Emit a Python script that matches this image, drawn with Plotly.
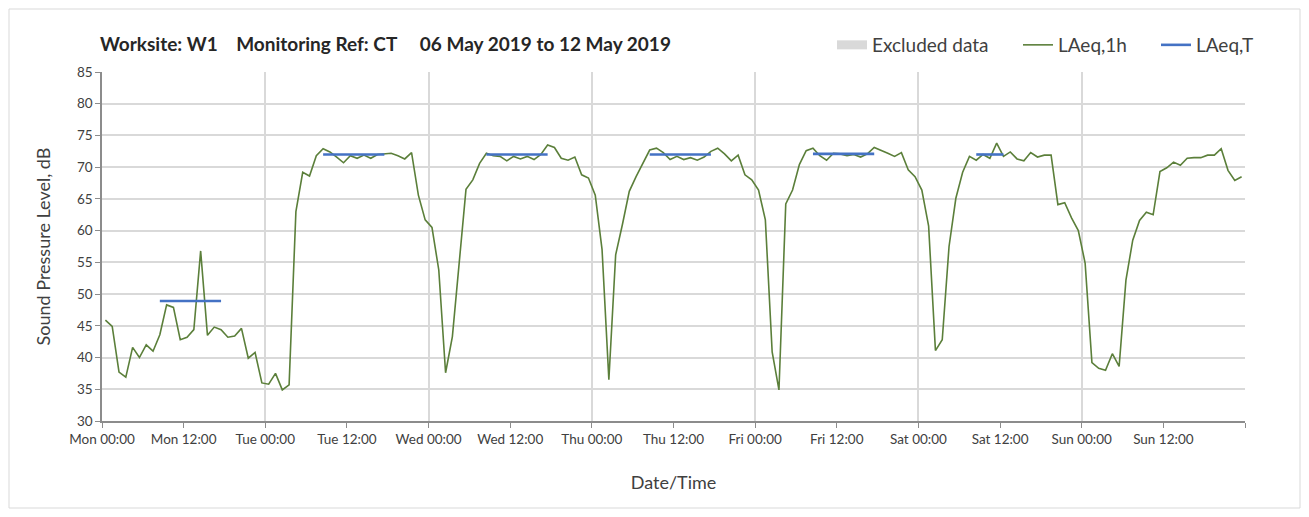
import plotly.graph_objects as go

# Hourly LAeq,1h values, Mon 00:00 .. Sun 23:00 (168 values)
laeq_1h = [
    45.9, 44.9, 37.7, 36.9, 41.6, 40.0, 42.0, 41.0, 43.6, 48.3, 47.9, 42.8,
    43.2, 44.4, 56.8, 43.5, 44.8, 44.4, 43.2, 43.4, 44.6, 39.9, 40.8, 36.0,
    35.8, 37.5, 34.9, 35.7, 63.0, 69.2, 68.6, 71.8, 72.9, 72.4, 71.6, 70.7,
    71.8, 71.4, 71.9, 71.4, 72.0, 72.1, 72.2, 71.8, 71.3, 72.3, 65.6, 61.7,
    60.5, 53.8, 37.6, 43.3, 55.0, 66.5, 68.0, 70.6, 72.2, 71.8, 71.7, 71.0,
    71.7, 71.3, 71.7, 71.2, 72.0, 73.5, 73.1, 71.4, 71.1, 71.6, 68.8, 68.3,
    65.6, 57.0, 36.5, 56.2, 61.0, 66.2, 68.5, 70.6, 72.7, 73.0, 72.3, 71.2,
    71.7, 71.2, 71.5, 71.1, 71.6, 72.5, 73.0, 72.1, 71.0, 71.9, 68.8, 68.0,
    66.4, 61.7, 40.9, 34.9, 64.2, 66.4, 70.4, 72.6, 73.0, 71.8, 71.1, 72.2,
    72.1, 71.8, 72.0, 71.6, 72.1, 73.1, 72.7, 72.2, 71.7, 72.3, 69.6, 68.5,
    66.4, 60.7, 41.1, 42.8, 57.5, 65.1, 69.2, 71.7, 71.1, 72.0, 71.4, 73.8,
    71.7, 72.4, 71.3, 71.0, 72.3, 71.6, 71.9, 71.9, 64.1, 64.4, 62.0, 60.0,
    54.9, 39.2, 38.3, 38.0, 40.6, 38.6, 52.2, 58.5, 61.6, 62.9, 62.5, 69.3,
    69.9, 70.8, 70.3, 71.4, 71.5, 71.5, 71.9, 71.9, 72.9, 69.5, 67.9, 68.5,
]

# LAeq,T per day: day index, first hour, last hour, level
laeq_t_days = [0, 1, 2, 3, 4, 5]
laeq_t_start = [8, 8, 8, 8, 8, 8]
laeq_t_end = [17, 17, 17, 17, 17, 12]
laeq_t_level = [48.9, 72.0, 72.0, 72.0, 72.1, 72.0]

day_names = ["Mon", "Tue", "Wed", "Thu", "Fri", "Sat", "Sun"]
tick_hours = list(range(0, 169, 12))
tick_labels = []
for h in tick_hours:
    if h >= 168:
        tick_labels.append("")
    else:
        tick_labels.append(f"{day_names[h // 24]} {h % 24:02d}:00")

hours = [i + 0.5 for i in range(len(laeq_1h))]

t_x, t_y = [], []
for d, s, e, lv in zip(laeq_t_days, laeq_t_start, laeq_t_end, laeq_t_level):
    for h in range(s, e + 1):
        t_x.append(d * 24 + h + 0.5)
        t_y.append(lv)
    t_x.append(None)
    t_y.append(None)

FONT = "Lato"
TXT = "#404040"

# page offset of the plot div (browser body margin)
OFF = 8
W, H = 1309 - 2 * OFF, 517 - 2 * OFF
PL, PR, PT, PB = 102, 1245, 72, 421  # plot area in page pixels


def px_x(page_x):
    return (page_x - PL) / (PR - PL)


def px_y(page_y):
    return (PB - page_y) / (PB - PT)


fig = go.Figure()
fig.add_trace(go.Scatter(x=[None], y=[None], mode="lines", name="Excluded data",
                         line=dict(color="#d9d9d9", width=9), legend="legend"))
fig.add_trace(go.Scatter(x=hours, y=laeq_1h, mode="lines", name="LAeq,1h",
                         line=dict(color="#5b7f3a", width=1.6), legend="legend2"))
fig.add_trace(go.Scatter(x=t_x, y=t_y, mode="lines", name="LAeq,T",
                         line=dict(color="#4472c4", width=2.6), connectgaps=False,
                         legend="legend3"))

leg_common = dict(orientation="h", xanchor="left", yanchor="middle", y=px_y(45),
                  font=dict(family=FONT, size=19, color=TXT),
                  bgcolor="rgba(0,0,0,0)", itemwidth=30)

fig.update_layout(
    width=W, height=H,
    margin=dict(l=PL - OFF, r=W - (PR - OFF), t=PT - OFF, b=H - (PB - OFF)),
    paper_bgcolor="white", plot_bgcolor="white",
    font=dict(family=FONT, color=TXT),
    title=dict(
        text="<b>Worksite: W1\u00a0\u00a0\u00a0\u00a0Monitoring Ref: CT\u00a0\u00a0\u00a0\u00a0\u00a006 May 2019 to 12 May 2019</b>",
        x=(100 - OFF) / W, xanchor="left", xref="container",
        y=1 - (44 - OFF) / H, yanchor="middle", yref="container",
        font=dict(family=FONT, size=19, color="#262626"),
    ),
    legend=dict(x=px_x(838 - 6), **leg_common),
    legend2=dict(x=px_x(1024 - 6), **leg_common),
    legend3=dict(x=px_x(1162 - 6), **leg_common),
    xaxis=dict(
        range=[0, 168], tickmode="array", tickvals=tick_hours, ticktext=tick_labels,
        showgrid=False, zeroline=False,
        showline=True, linecolor="#8c8c8c", linewidth=1.5,
        ticks="outside", ticklen=5, tickcolor="#8c8c8c",
        tickfont=dict(family=FONT, size=13.5, color=TXT),
        minor=dict(tickmode="array", tickvals=list(range(24, 169, 24)), showgrid=True,
                   gridcolor="#d9d9d9", gridwidth=1.5, ticks=""),
        title=dict(text="Date/Time", font=dict(family=FONT, size=18, color=TXT), standoff=30),
    ),
    yaxis=dict(
        range=[30, 85], dtick=5, tick0=30,
        showgrid=True, gridcolor="#d9d9d9", gridwidth=1.5, zeroline=False,
        showline=True, linecolor="#8c8c8c", linewidth=1.5,
        ticks="outside", ticklen=5, tickcolor="#8c8c8c",
        tickfont=dict(family=FONT, size=13.5, color=TXT),
        title=dict(text="Sound Pressure Level, dB", font=dict(family=FONT, size=18, color=TXT), standoff=22),
    ),
    shapes=[dict(type="rect", xref="paper", yref="paper",
                 x0=px_x(OFF + 1), x1=px_x(1300),
                 y0=px_y(508), y1=px_y(OFF + 1),
                 line=dict(color="#d9d9d9", width=1), fillcolor="rgba(0,0,0,0)", layer="below")],
    showlegend=True,
)

fig.write_html("out.html")
